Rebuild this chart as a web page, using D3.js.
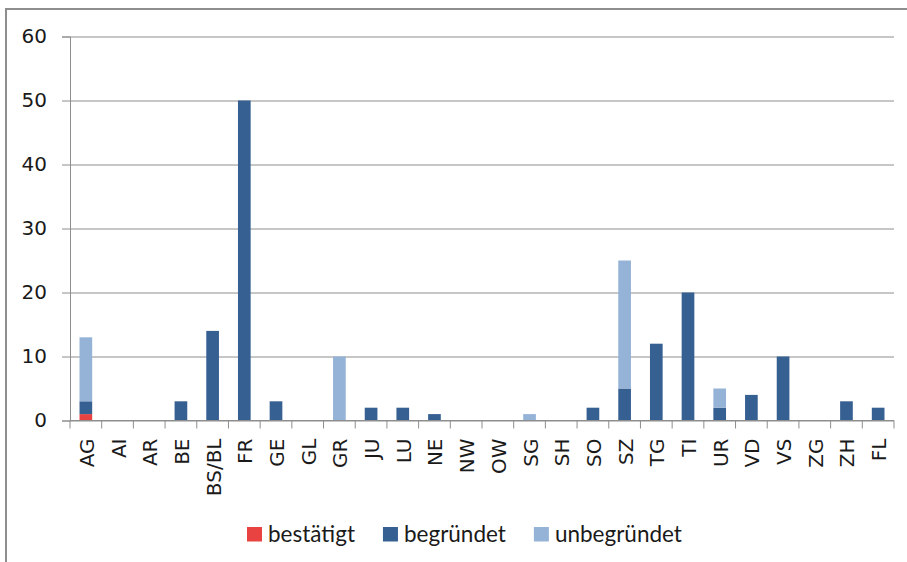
<!DOCTYPE html>
<html>
<head>
<meta charset="utf-8">
<script src="https://cdn.jsdelivr.net/npm/d3@7/dist/d3.min.js"></script>
<style>
  body { margin: 0; background: #fff; }
  svg { display: block; }
</style>
</head>
<body>
<svg id="chart" width="907" height="562"></svg>
<script>
// Kantone
const categories = ["AG", "AI", "AR", "BE", "BS/BL", "FR", "GE", "GL", "GR", "JU", "LU", "NE", "NW",
  "OW", "SG", "SH", "SO", "SZ", "TG", "TI", "UR", "VD", "VS", "ZG", "ZH", "FL"];

const bestaetigt  = [1, 0, 0, 0, 0, 0, 0, 0, 0, 0, 0, 0, 0, 0, 0, 0, 0, 0, 0, 0, 0, 0, 0, 0, 0, 0];
const begruendet  = [2, 0, 0, 3, 14, 50, 3, 0, 0, 2, 2, 1, 0, 0, 0, 0, 2, 5, 12, 20, 2, 4, 10, 0, 3, 2];
const unbegruendet = [10, 0, 0, 0, 0, 0, 0, 0, 10, 0, 0, 0, 0, 0, 1, 0, 0, 20, 0, 0, 3, 0, 0, 0, 0, 0];

const yTicks = [0, 10, 20, 30, 40, 50, 60];

const seriesNames = ["bestätigt", "begründet", "unbegründet"];
const colors = ["#e84341", "#376092", "#95b3d7"];

const svg = d3.select("#chart");
const margin = { top: 36.5, right: 13, bottom: 141.5, left: 70 };
const W = 907, H = 562;

// outer frame (only top & left visible in the window)
svg.append("path")
  .attr("d", `M6,${H + 5} V9 H${W + 5}`)
  .attr("fill", "none")
  .attr("stroke", "#8e8e8e")
  .attr("stroke-width", 2);

const table = categories.map((c, i) => ({
  name: c,
  "bestätigt": bestaetigt[i],
  "begründet": begruendet[i],
  "unbegründet": unbegruendet[i]
}));
const stacked = d3.stack().keys(seriesNames)(table);

const x = d3.scaleBand()
  .domain(categories)
  .range([margin.left, W - margin.right]);

const y = d3.scaleLinear()
  .domain([0, 60])
  .range([H - margin.bottom, margin.top]);

// gridlines + y axis
svg.append("g")
  .attr("transform", `translate(${margin.left},0)`)
  .call(d3.axisLeft(y).tickValues(yTicks).tickSize(8).tickPadding(15))
  .call(g => g.select(".domain").attr("stroke", "#8e8e8e"))
  .call(g => g.selectAll(".tick line").attr("stroke", "#8e8e8e"))
  .call(g => g.selectAll(".tick").append("line")
    .attr("x1", 0).attr("x2", W - margin.right - margin.left)
    .attr("stroke", "#8e8e8e"))
  .call(g => g.selectAll("text")
    .attr("fill", "#1a1a1a")
    .style("font-family", "DejaVu Sans, sans-serif")
    .style("font-size", "20px"));

// bars
const barW = x.bandwidth() * 0.4;
svg.append("g")
  .selectAll("g")
  .data(stacked)
  .join("g")
  .attr("fill", (d, i) => colors[i])
  .selectAll("rect")
  .data(d => d)
  .join("rect")
  .attr("x", d => x(d.data.name) + (x.bandwidth() - barW) / 2)
  .attr("y", d => y(d[1]))
  .attr("width", barW)
  .attr("height", d => y(d[0]) - y(d[1]));

// x axis with ticks at band boundaries
const xAxis = svg.append("g")
  .attr("transform", `translate(0,${H - margin.bottom})`);
xAxis.append("line")
  .attr("x1", margin.left).attr("x2", W - margin.right)
  .attr("stroke", "#8e8e8e");
xAxis.selectAll("line.tk")
  .data(categories.concat(["__end"]))
  .join("line")
  .attr("class", "tk")
  .attr("x1", (d, i) => i < categories.length ? x(d) : W - margin.right)
  .attr("x2", (d, i) => i < categories.length ? x(d) : W - margin.right)
  .attr("y1", 0).attr("y2", 8)
  .attr("stroke", "#8e8e8e");
xAxis.selectAll("text")
  .data(categories)
  .join("text")
  .attr("transform", d => `translate(${x(d) + x.bandwidth() / 2 + 8},18) rotate(-90)`)
  .attr("text-anchor", "end")
  .attr("fill", "#1a1a1a")
  .style("font-family", "DejaVu Sans, sans-serif")
  .style("font-size", "20px")
  .text(d => d);

// legend
const legend = svg.append("g")
  .attr("transform", "translate(247,527)");
let lx = 0;
seriesNames.forEach((name, i) => {
  const item = legend.append("g").attr("transform", `translate(${lx},0)`);
  item.append("rect")
    .attr("width", 15).attr("height", 14.5)
    .attr("fill", colors[i]);
  const t = item.append("text")
    .attr("x", 21).attr("y", 14.5)
    .attr("fill", "#1a1a1a")
    .style("font-family", "Lato, sans-serif")
    .style("font-size", "22.5px")
    .text(name);
  lx += 21 + t.node().getComputedTextLength() + 28;
});
</script>
</body>
</html>
